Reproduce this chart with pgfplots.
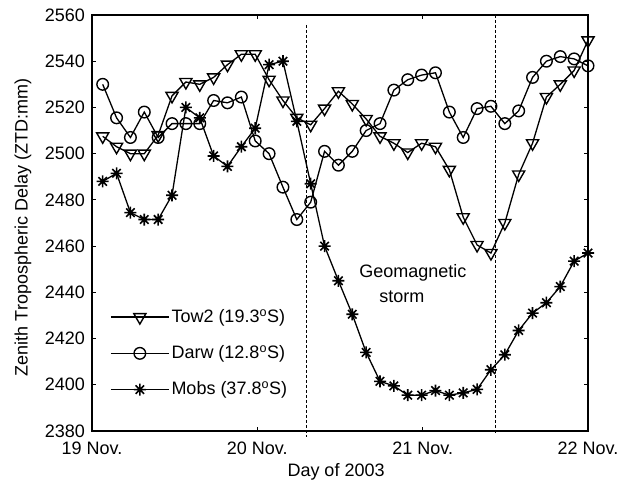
\documentclass[border=0pt]{standalone}
\usepackage{fontspec}
\setmainfont{Liberation Sans}
\usepackage{pgfplots}
\pgfplotsset{compat=1.18}
\pgfdeclareplotmark{mstar}{%
  \pgfpathmoveto{\pgfqpoint{-\pgfplotmarksize}{0pt}}\pgfpathlineto{\pgfqpoint{\pgfplotmarksize}{0pt}}%
  \pgfpathmoveto{\pgfqpoint{0pt}{-\pgfplotmarksize}}\pgfpathlineto{\pgfqpoint{0pt}{\pgfplotmarksize}}%
  \pgfpathmoveto{\pgfqpoint{-0.707\pgfplotmarksize}{-0.707\pgfplotmarksize}}\pgfpathlineto{\pgfqpoint{0.707\pgfplotmarksize}{0.707\pgfplotmarksize}}%
  \pgfpathmoveto{\pgfqpoint{-0.707\pgfplotmarksize}{0.707\pgfplotmarksize}}\pgfpathlineto{\pgfqpoint{0.707\pgfplotmarksize}{-0.707\pgfplotmarksize}}%
  \pgfusepathqstroke}
\pgfplotstableread{
i tow darw mobs
0 2507.5 2530 2488
1 2503 2515.5 2491.5
2 2500 2507 2474.5
3 2500 2518 2471.5
4 2508 2507 2471.5
5 2525 2513 2482
6 2531 2513 2520
7 2530 2513 2515.5
8 2533 2523 2499
9 2538.5 2522 2494.5
10 2543 2524.5 2503
11 2543 2505.5 2511
12 2532 2500 2538.5
13 2523 2485.5 2540
14 2515.5 2471.5 2514
15 2512.5 2479 2487
16 2519.5 2501 2460
17 2527 2495 2445
18 2521.5 2501 2430.5
19 2515 2510 2414
20 2507.5 2513 2401.5
21 2504.5 2527.5 2399.5
22 2500.5 2532 2395.5
23 2504.5 2534 2395.5
24 2503 2535 2397.5
25 2493 2518 2395.5
26 2472.5 2507 2396.5
27 2460.5 2519.5 2398
28 2457 2520.5 2406.5
29 2470 2513 2413
30 2491 2518.5 2423.5
31 2504.5 2533 2431
32 2524.5 2540 2435.5
33 2530 2542 2442.5
34 2536 2541 2453.5
35 2549 2538 2457
}\datatable
\begin{document}
\fontsize{18}{21.6}\selectfont
\begin{tikzpicture}
\begin{axis}[
  scale only axis, width=496pt, height=416pt,
  xmin=-0.771, xmax=35, ymin=2380, ymax=2560,
  xtick={-0.771,11.15,23.08,35},
  xticklabels={19 Nov.,20 Nov.,21 Nov.,22 Nov.},
  ytick={2380,2400,...,2560},
  /pgf/number format/assume math mode=true,
  yticklabel style={/pgf/number format/1000 sep={}},
  tick align=inside, major tick length=4pt,
  tick style={line width=1.2pt, black},
  axis line style={line width=2.2pt},
  xticklabel style={yshift=-5pt},
  yticklabel style={xshift=-1pt},
  xlabel={Day of 2003},
  ylabel={Zenith Tropospheric Delay (ZTD:mm)},
  every axis x label/.style={at={(axis description cs:0.492,-0.098)}, anchor=center},
  every axis y label/.style={at={(axis description cs:-0.139,0.489)}, rotate=90, anchor=center},
  clip=false,
  legend style={at={(axis description cs:0.0363,0.298)}, anchor=north west, draw=none, fill=none,
    row sep=16.5pt, font=\fontsize{18}{21.6}\selectfont, inner sep=0pt},
  legend cell align=left,
  legend image code/.code={\draw[mark repeat=2,mark phase=2,#1] plot coordinates {(0pt,0pt) (29pt,0pt) (58pt,0pt)};},
]
\addplot[black, line width=1.3pt, mark=triangle, mark size=7pt, mark options={rotate=180, fill=none, line width=1.4pt}] table[x=i,y=tow] {\datatable};
\addlegendentry{Tow2 (19.3\textsuperscript{o}S)}
\addplot[black, line width=1.3pt, mark=o, mark size=5.8pt, mark options={fill=none, line width=1.4pt}] table[x=i,y=darw] {\datatable};
\addlegendentry{Darw (12.8\textsuperscript{o}S)}
\addplot[black, line width=1.3pt, mark=mstar, mark size=6pt, mark options={line width=1.6pt}] table[x=i,y=mobs] {\datatable};
\addlegendentry{Mobs (37.8\textsuperscript{o}S)}
\addplot[black, line width=0.9pt, densely dashed, forget plot] coordinates {(14.66,2555.7) (14.66,2377.5)};
\addplot[black, line width=0.9pt, densely dashed, forget plot] coordinates {(28.36,2560) (28.36,2379)};
\node at (axis cs:22.37,2448.6) {Geomagnetic};
\node at (axis cs:21.58,2438.2) {storm};
\coordinate (ll) at (rel axis cs:0,0);
\end{axis}
\path (ll) ++(-92pt,-51pt) rectangle ++(631pt,482pt);
\end{tikzpicture}
\end{document}
